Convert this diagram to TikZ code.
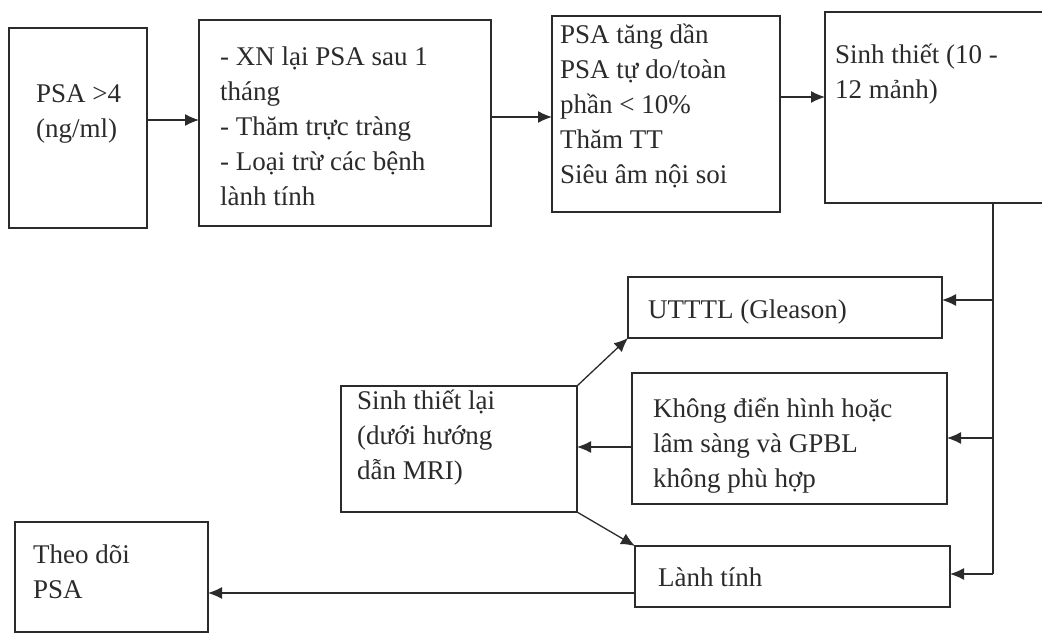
\documentclass[tikz,border=0pt]{standalone}
\usepackage{fontspec}
\setmainfont{Liberation Serif}
\usetikzlibrary{arrows.meta}
\definecolor{ink}{HTML}{2B2B2B}
\begin{document}
\begin{tikzpicture}[x=1pt,y=-1pt,
  box/.style={draw=ink,line width=1.2pt,anchor=north west,inner sep=0pt,outer sep=0pt},
  txt/.style={anchor=north west,inner sep=0pt,align=left,text=ink,font=\fontsize{27}{35}\selectfont},
  arr/.style={draw=ink,line width=1.3pt,-{Latex[length=14pt,width=12pt]}},
  ln/.style={draw=ink,line width=1.2pt}]
\useasboundingbox[fill=white] (0,0) rectangle (1042,634);
% boxes
\node[box,minimum width=138pt,minimum height=200pt] (b1) at (9,28) {};
\node[box,minimum width=292pt,minimum height=206pt] (b2) at (199,20) {};
\node[box,minimum width=228pt,minimum height=196pt] (b3) at (552,16) {};
\node[box,minimum width=230pt,minimum height=191pt] (b4) at (825,12) {};
\node[box,minimum width=314pt,minimum height=61pt] (u) at (628,277) {};
\node[box,minimum width=315pt,minimum height=131pt] (k) at (632,373) {};
\node[box,minimum width=236pt,minimum height=126pt] (s) at (341,386) {};
\node[box,minimum width=315pt,minimum height=61pt] (l) at (635,546) {};
\node[box,minimum width=193pt,minimum height=110pt] (t) at (15,522) {};
% texts
\node[txt] (t1) at (36,80) {\rule{0pt}{22pt}PSA >4\\(ng/ml)};
\node[txt] (t2) at (220,43) {\rule{0pt}{22pt}- XN lại PSA sau 1\\tháng\\- Thăm trực tràng\\- Loại trừ các bệnh\\lành tính};
\node[txt] (t3) at (560,21) {\rule{0pt}{22pt}PSA tăng dần\\PSA tự do/toàn\\phần < 10\%\\Thăm TT\\Siêu âm nội soi};
\node[txt] (t4) at (835,41) {\rule{0pt}{22pt}Sinh thiết (10 -\\12 mảnh)};
\node[txt] (tu) at (648,296) {\rule{0pt}{22pt}UTTTL (Gleason)};
\node[txt] (tk) at (653,395) {\rule{0pt}{22pt}Không điển hình hoặc\\lâm sàng và GPBL\\không phù hợp};
\node[txt] (ts) at (357,387) {\rule{0pt}{22pt}Sinh thiết lại\\(dưới hướng\\dẫn MRI)};
\node[txt] (tt) at (33,541) {\rule{0pt}{22pt}Theo dõi\\PSA};
\node[txt] (tl) at (658,564) {\rule{0pt}{22pt}Lành tính};
% trunk
\coordinate (tr) at (993,574);
% connectors
\draw[arr] (b1.east |- 0,120) -- (b2.west |- 0,120);
\draw[arr] (b2.east |- 0,117) -- (b3.west |- 0,117);
\draw[arr] (b3.east |- 0,97) -- (b4.west |- 0,97);
\draw[ln] (b4.south -| tr) -- (tr);
\draw[arr] (tr |- 0,300) -- (u.east |- 0,300);
\draw[arr] (tr |- 0,438) -- (k.east |- 0,438);
\draw[arr] (tr) -- (l.east |- tr);
\draw[arr] (k.west |- 0,447) -- (s.east |- 0,447);
\draw[arr] (s.north east) -- (u.south west);
\draw[arr] (s.south east) -- (l.north west);
\draw[arr] (l.west |- 0,593) -- (t.east |- 0,593);
\end{tikzpicture}
\end{document}
